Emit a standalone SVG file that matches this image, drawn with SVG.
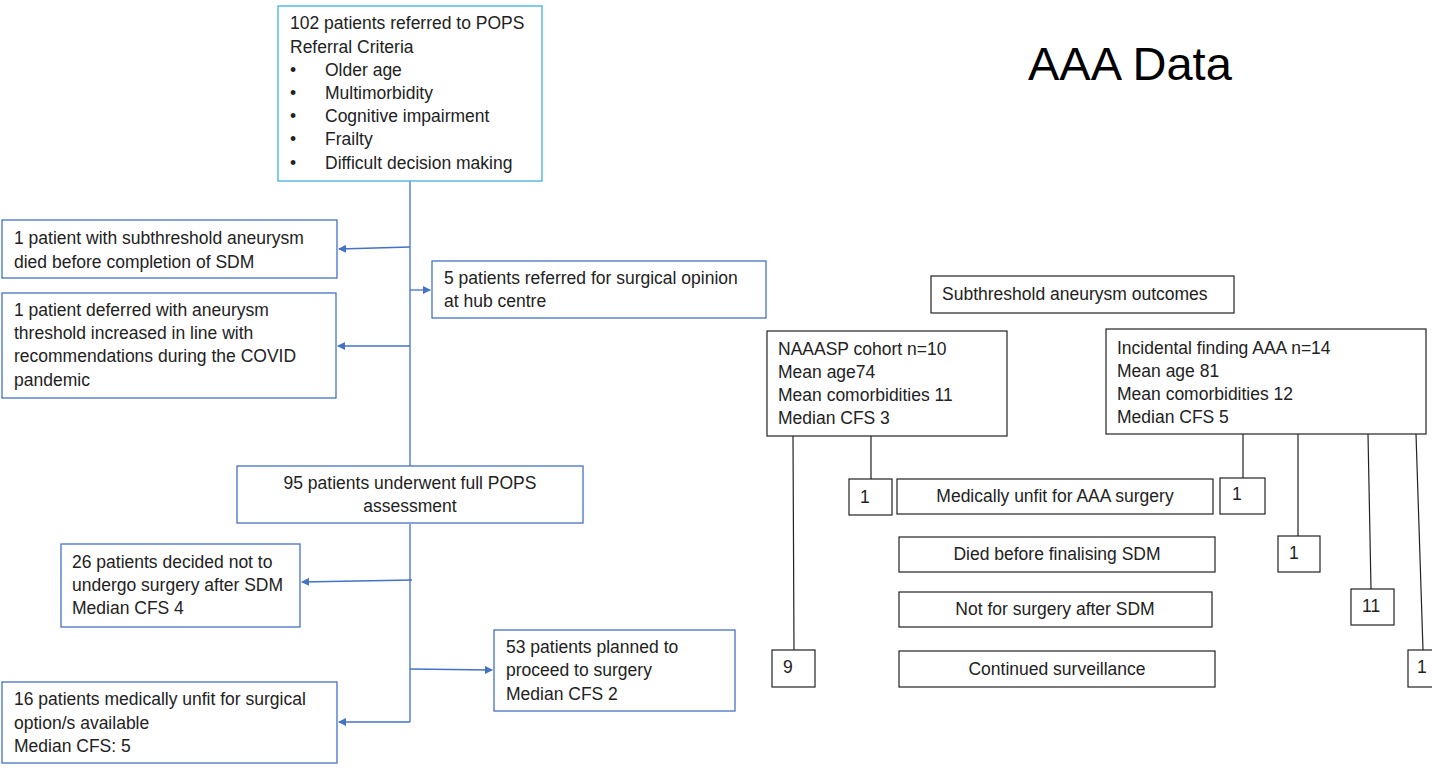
<svg xmlns="http://www.w3.org/2000/svg" width="1432" height="768" viewBox="0 0 1432 768">
<defs>
<marker id="arr" markerWidth="8" markerHeight="8" refX="7" refY="4" orient="auto" markerUnits="userSpaceOnUse">
<path d="M0,0 L8,4 L0,8 Z" fill="#4472c4"/>
</marker>
<style>
text{font-family:"Liberation Sans",Arial,sans-serif;font-size:17.5px;fill:#222}
.bb{fill:#fff;stroke:#4472c4;stroke-width:1.3}
.lb{fill:#fff;stroke:#3fb0e3;stroke-width:1.3}
.kb{fill:#fff;stroke:#222;stroke-width:1.2}
.c{text-anchor:middle}
.bl{fill:none;stroke:#4472c4;stroke-width:1.3}
.kl{fill:none;stroke:#222;stroke-width:1.2}
</style>
</defs>
<rect width="1432" height="768" fill="#fff"/>
<g id="connectors">
<path class="bl" d="M410,181 V466 M410,524 V722"/>
<path class="bl" d="M410,247 L339,249" marker-end="url(#arr)"/>
<path class="bl" d="M410,290 H430" marker-end="url(#arr)"/>
<path class="bl" d="M410,346 H338" marker-end="url(#arr)"/>
<path class="bl" d="M412,580 L302,582" marker-end="url(#arr)"/>
<path class="bl" d="M410,669 L492,670" marker-end="url(#arr)"/>
<path class="bl" d="M410,722 H339" marker-end="url(#arr)"/>
<path class="kl" d="M793,436 L794,650 M871,436 V479 M1243,434 V478 M1298,434 V536 M1368,434 L1371,589 M1416,434 L1423,650"/>
</g>
<g id="title"><text x="1028" y="80" style="font-size:47px;fill:#000">AAA Data</text></g>
<g id="n-referred">
<rect class="lb" x="278" y="6" width="264" height="175"/>
<text x="290" y="29">102 patients referred to POPS</text>
<text x="290" y="53">Referral Criteria</text>
<text x="290" y="76">•</text><text x="325" y="76">Older age</text>
<text x="290" y="99">•</text><text x="325" y="99">Multimorbidity</text>
<text x="290" y="122">•</text><text x="325" y="122">Cognitive impairment</text>
<text x="290" y="145">•</text><text x="325" y="145">Frailty</text>
<text x="290" y="169">•</text><text x="325" y="169">Difficult decision making</text>
</g>
<g id="n-died">
<rect class="bb" x="2" y="220" width="335" height="58"/>
<text x="14" y="244">1 patient with subthreshold aneurysm</text>
<text x="14" y="268">died before completion of SDM</text>
</g>
<g id="n-hub">
<rect class="bb" x="432" y="261" width="334" height="57"/>
<text x="444" y="284">5 patients referred for surgical opinion</text>
<text x="444" y="307">at hub centre</text>
</g>
<g id="n-deferred">
<rect class="bb" x="2" y="293" width="334" height="105"/>
<text x="14" y="316">1 patient deferred with aneurysm</text>
<text x="14" y="339">threshold increased in line with</text>
<text x="14" y="362">recommendations during the COVID</text>
<text x="14" y="386">pandemic</text>
</g>
<g id="n-assessed">
<rect class="bb" x="237" y="466" width="346" height="57"/>
<text class="c" x="410" y="489">95 patients underwent full POPS</text>
<text class="c" x="410" y="512">assessment</text>
</g>
<g id="n-notsurgery">
<rect class="bb" x="61" y="544" width="239" height="83"/>
<text x="72" y="568">26 patients decided not to</text>
<text x="72" y="591">undergo surgery after SDM</text>
<text x="72" y="614">Median CFS 4</text>
</g>
<g id="n-planned">
<rect class="bb" x="494" y="630" width="241" height="81"/>
<text x="506" y="653">53 patients planned to</text>
<text x="506" y="676">proceed to surgery</text>
<text x="506" y="700">Median CFS 2</text>
</g>
<g id="n-unfit">
<rect class="bb" x="2" y="682" width="335" height="81"/>
<text x="14" y="705">16 patients medically unfit for surgical</text>
<text x="14" y="729">option/s available</text>
<text x="14" y="752">Median CFS: 5</text>
</g>
<g id="n-subthreshold">
<rect class="kb" x="931" y="276" width="303" height="37"/>
<text x="942" y="300">Subthreshold aneurysm outcomes</text>
</g>
<g id="n-naaasp">
<rect class="kb" x="767" y="331" width="240" height="105"/>
<text x="778" y="355">NAAASP cohort n=10</text>
<text x="778" y="378">Mean age74</text>
<text x="778" y="401">Mean comorbidities 11</text>
<text x="778" y="424">Median CFS 3</text>
</g>
<g id="n-incidental">
<rect class="kb" x="1106" y="329" width="320" height="105"/>
<text x="1117" y="354">Incidental finding AAA n=14</text>
<text x="1117" y="377">Mean age 81</text>
<text x="1117" y="400">Mean comorbidities 12</text>
<text x="1117" y="423">Median CFS 5</text>
</g>
<g id="n-c1"><rect class="kb" x="849" y="479" width="43" height="36"/><text x="860" y="503">1</text></g>
<g id="n-medunfit"><rect class="kb" x="897" y="479" width="316" height="35"/><text class="c" x="1055" y="502">Medically unfit for AAA surgery</text></g>
<g id="n-c2"><rect class="kb" x="1220" y="478" width="45" height="36"/><text x="1232" y="500">1</text></g>
<g id="n-diedsdm"><rect class="kb" x="899" y="537" width="316" height="35"/><text class="c" x="1057" y="560">Died before finalising SDM</text></g>
<g id="n-c3"><rect class="kb" x="1278" y="536" width="42" height="36"/><text x="1289" y="559">1</text></g>
<g id="n-notsdm"><rect class="kb" x="899" y="592" width="313" height="35"/><text class="c" x="1055" y="615">Not for surgery after SDM</text></g>
<g id="n-c4"><rect class="kb" x="1351" y="589" width="43" height="36"/><text x="1362" y="612">11</text></g>
<g id="n-c5"><rect class="kb" x="772" y="650" width="43" height="37"/><text x="783" y="673">9</text></g>
<g id="n-surv"><rect class="kb" x="899" y="651" width="316" height="36"/><text class="c" x="1057" y="675">Continued surveillance</text></g>
<g id="n-c6"><rect class="kb" x="1408" y="650" width="40" height="37"/><text x="1417" y="673">1</text></g>
</svg>
